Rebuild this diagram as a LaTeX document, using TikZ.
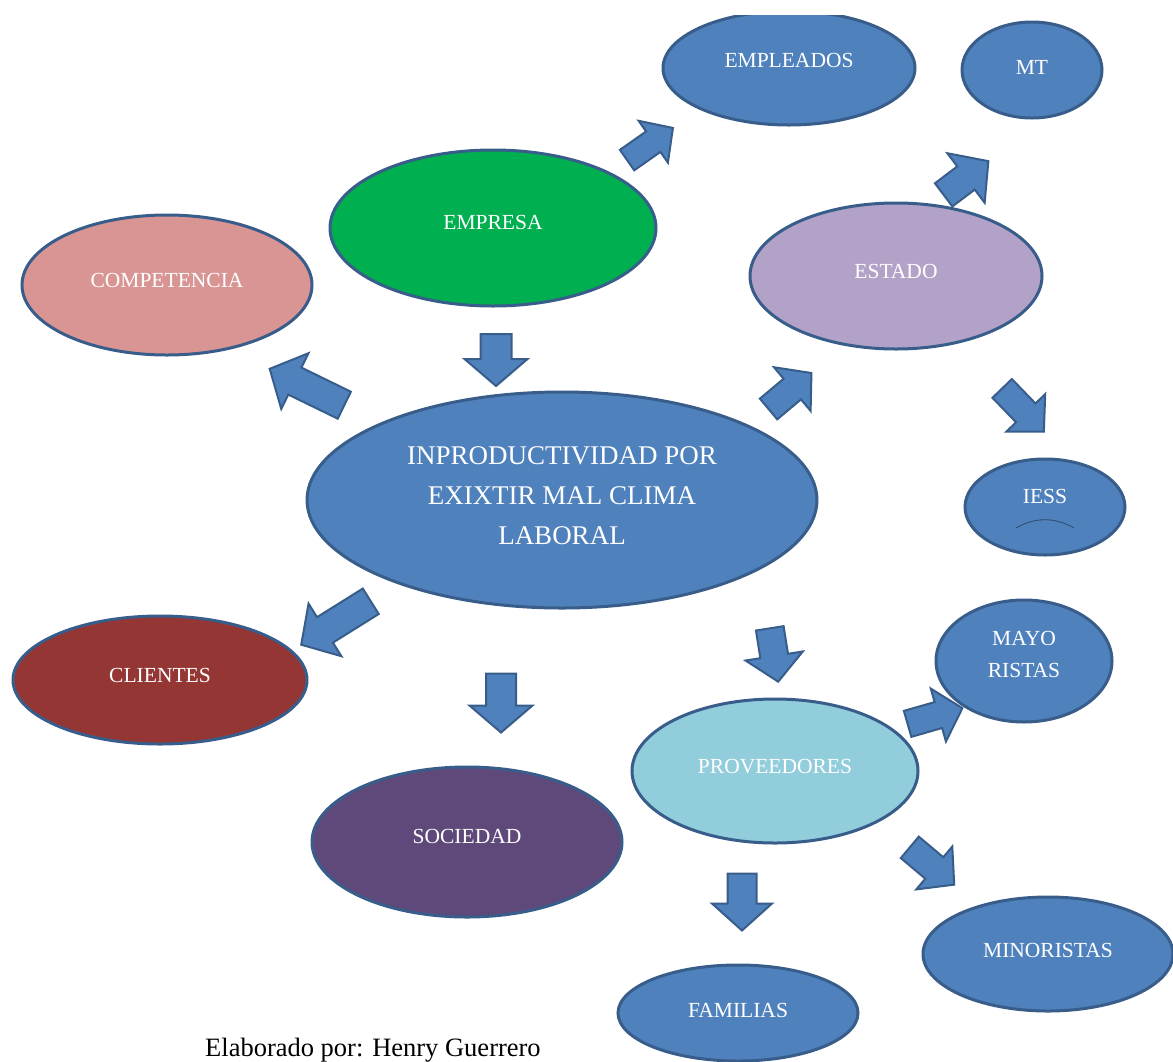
\documentclass[tikz,border=0pt]{standalone}
\usepackage{fontspec}
\setmainfont{Liberation Serif}
\usetikzlibrary{shapes.geometric}
\definecolor{cblue}{HTML}{4F81BD}
\definecolor{cborder}{HTML}{385D8A}
\definecolor{cgreen}{HTML}{00B050}
\definecolor{cpink}{HTML}{D99594}
\definecolor{clav}{HTML}{B2A2C7}
\definecolor{cred}{HTML}{943634}
\definecolor{clight}{HTML}{92CDDC}
\definecolor{cpurple}{HTML}{5F497A}
\tikzset{
  ell/.style={ellipse, draw=cborder, line width=3pt, fill=cblue, inner sep=0pt},
  lbl/.style={text=white, font=\fontsize{21.5}{32}\selectfont, align=center, inner sep=0pt},
  biglbl/.style={text=white, font=\fontsize{27}{40}\selectfont, align=center, inner sep=0pt},
  blk/.style={draw=cborder, line width=2pt, fill=cblue, line join=miter},
  % length / shaft half-width / head half-width / head length
  pics/barrow/.style args={#1/#2/#3/#4}{code={
    \draw[blk] (-#1/2,-#2) -- (#1/2-#4,-#2) -- (#1/2-#4,-#3) -- (#1/2,0)
      -- (#1/2-#4,#3) -- (#1/2-#4,#2) -- (-#1/2,#2) -- cycle;}}
}
\begin{document}
\begin{tikzpicture}[x=1pt,y=-1pt]
\useasboundingbox (0,0) rectangle (1173,1061);
\begin{scope}
\clip (0,15) rectangle (1173,1061);
% ellipses
\node[ell, minimum width=252pt, minimum height=114pt,
  label={[lbl,yshift=8pt]center:EMPLEADOS}] (empl) at (789,68) {};
\node[ell, minimum width=140pt, minimum height=96pt,
  label={[lbl,yshift=3pt]center:MT}] (mt) at (1032,70) {};
\node[ell, fill=cgreen, minimum width=326pt, minimum height=156pt,
  label={[lbl,yshift=6pt]center:EMPRESA}] (empresa) at (493,228) {};
\node[ell, fill=cpink, minimum width=290pt, minimum height=140pt,
  label={[lbl,yshift=5pt]center:COMPETENCIA}] (comp) at (167,285) {};
\node[ell, fill=clav, minimum width=292pt, minimum height=146pt,
  label={[lbl,yshift=5pt]center:ESTADO}] (estado) at (896,276) {};
\node[ell, minimum width=510pt, minimum height=216pt,
  label={[biglbl,yshift=4pt]center:INPRODUCTIVIDAD POR\\EXIXTIR MAL CLIMA\\LABORAL}] (central) at (562,500) {};
\node[ell, minimum width=160pt, minimum height=96pt,
  label={[lbl,yshift=11pt]center:IESS}] (iess) at (1045,507) {};
\node[ell, fill=cred, minimum width=294pt, minimum height=128pt,
  label={[lbl,yshift=5pt]center:CLIENTES}] (clientes) at (160,680) {};
\node[ell, minimum width=176pt, minimum height=122pt,
  label={[lbl,yshift=7pt]center:MAYO\\RISTAS}] (mayor) at (1024,661) {};
\node[ell, fill=clight, minimum width=286pt, minimum height=144pt,
  label={[lbl,yshift=4pt]center:PROVEEDORES}] (prov) at (775,771) {};
\node[ell, fill=cpurple, minimum width=310pt, minimum height=150pt,
  label={[lbl,yshift=6pt]center:SOCIEDAD}] (soc) at (467,842) {};
\node[ell, minimum width=250pt, minimum height=114pt,
  label={[lbl,yshift=4pt]center:MINORISTAS}] (minor) at (1048,954) {};
\node[ell, minimum width=240pt, minimum height=96pt,
  label={[lbl,yshift=3pt]center:FAMILIAS}] (fam) at (738,1013) {};
% small arc in IESS
\draw[cborder!80!black, line width=0.8pt] ([xshift=-29pt,yshift=-21pt]iess.center)
  .. controls ([xshift=-10pt,yshift=-10pt]iess.center) and ([xshift=10pt,yshift=-10pt]iess.center)
  .. ([xshift=29pt,yshift=-21pt]iess.center);
% block arrows
\pic[rotate=-90] (aEmpCen) at (496,360) {barrow=52/15.5/31.5/27};
\pic[rotate=154] (aCenComp) at (307,387) {barrow=83/15/31/28};
\pic[rotate=40] (aCenEst) at (790,391) {barrow=56/13.5/28.5/25};
\pic[rotate=35] (aEmpEmpl) at (650,144) {barrow=56/12.5/25.5/24};
\pic[rotate=37] (aEstMt) at (966,178) {barrow=56/14.5/31/28};
\pic[rotate=-46] (aEstIess) at (1023,410) {barrow=60/13.5/27/26};
\pic[rotate=212] (aCenCli) at (336,623) {barrow=82/15/31/28};
\pic[rotate=-90] (aCenSoc) at (501,703) {barrow=59/15/31.5/27};
\pic[rotate=-81] (aCenProv) at (774,655) {barrow=54/14/29/26};
\pic[rotate=16] (aProvMay) at (935,716) {barrow=57/13.5/27.5/25};
\pic[rotate=-40] (aProvMin) at (932,866) {barrow=58/14/28/26};
\pic[rotate=-90] (aProvFam) at (742,902) {barrow=57/14.5/30/27};
\end{scope}
\node[anchor=base west, inner sep=0pt, font=\fontsize{26.5}{30}\selectfont] (credit) at (205,1056) {Elaborado por: Henry Guerrero};
\end{tikzpicture}
\end{document}
